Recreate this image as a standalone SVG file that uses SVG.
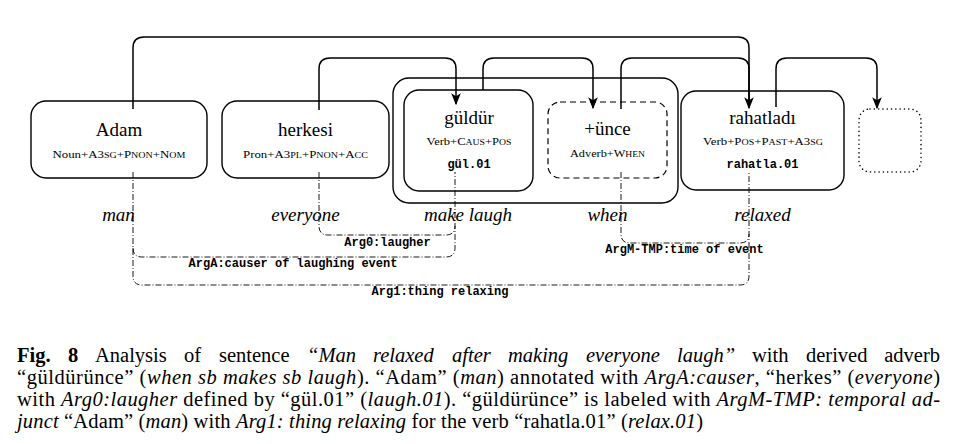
<svg xmlns="http://www.w3.org/2000/svg" width="967" height="444" viewBox="0 0 967 444">
<defs>
<marker id="ah" markerUnits="userSpaceOnUse" markerWidth="12" markerHeight="10" viewBox="0 0 10 8" refX="9" refY="4" orient="auto">
<path d="M0,0 L10,4 L0,8 L2.5,4 z" fill="#000"/>
</marker>
<style>
.box{fill:none;stroke:#000;stroke-width:1.4}
.dash{fill:none;stroke:#000;stroke-width:1.2;stroke-dasharray:6 4}
.dot{fill:none;stroke:#000;stroke-width:1.5;stroke-dasharray:0.1 4.2;stroke-linecap:round}
.arc{fill:none;stroke:#000;stroke-width:1.5}
.dd{fill:none;stroke:#000;stroke-width:0.9;stroke-dasharray:6 2 1 2}
.t{font-family:"Liberation Serif","Times New Roman",serif;font-size:19px;text-anchor:middle;fill:#000}
.s{font-family:"Liberation Serif","Times New Roman",serif;font-size:10.5px;text-anchor:middle;fill:#000}
.sc{font-size:8.2px}
.m{font-family:"Liberation Mono","Courier New",monospace;font-size:12px;font-weight:bold;text-anchor:middle;fill:#000}
.it{font-family:"Liberation Serif","Times New Roman",serif;font-size:19px;font-style:italic;text-anchor:middle;fill:#000}
.c{font-family:"Liberation Serif","Times New Roman",serif;font-size:20.5px;fill:#000}
.i{font-style:italic}
.b{font-weight:bold}
</style>
</defs>

<g id="container">
<rect class="box" x="393" y="78" width="285" height="125" rx="16"/>
</g>

<g id="node-adam">
<rect class="box" x="31" y="101" width="176" height="77" rx="15"/>
<text class="t" x="119" y="136">Adam</text>
<text class="s" x="119" y="158" textLength="133" lengthAdjust="spacingAndGlyphs">Noun+A3<tspan class="sc">SG</tspan>+P<tspan class="sc">NON</tspan>+N<tspan class="sc">OM</tspan></text>
</g>

<g id="node-herkesi">
<rect class="box" x="222" y="101" width="167" height="77" rx="15"/>
<text class="t" x="305.5" y="136">herkesi</text>
<text class="s" x="305.5" y="158" textLength="125" lengthAdjust="spacingAndGlyphs">Pron+A3<tspan class="sc">PL</tspan>+P<tspan class="sc">NON</tspan>+A<tspan class="sc">CC</tspan></text>
</g>

<g id="node-guldur">
<rect class="box" x="404" y="90" width="129" height="101" rx="15"/>
<text class="t" x="469" y="124">güldür</text>
<text class="s" x="469" y="145" textLength="85" lengthAdjust="spacingAndGlyphs">Verb+C<tspan class="sc">AUS</tspan>+P<tspan class="sc">OS</tspan></text>
<text class="m" x="469" y="168">gül.01</text>
</g>

<g id="node-unce">
<rect class="dash" x="548" y="102" width="119" height="76" rx="12"/>
<text class="t" x="607.5" y="135">+ünce</text>
<text class="s" x="607.5" y="157" textLength="75" lengthAdjust="spacingAndGlyphs">Adverb+W<tspan class="sc">HEN</tspan></text>
</g>

<g id="node-rahatladi">
<rect class="box" x="681" y="91" width="163" height="99" rx="15"/>
<text class="t" x="762.5" y="124">rahatladı</text>
<text class="s" x="763" y="145" textLength="120" lengthAdjust="spacingAndGlyphs">Verb+P<tspan class="sc">OS</tspan>+P<tspan class="sc">AST</tspan>+A3<tspan class="sc">SG</tspan></text>
<text class="m" x="762.5" y="168">rahatla.01</text>
</g>

<g id="node-empty">
<rect class="dot" x="859" y="109" width="62" height="63" rx="11"/>
</g>

<g id="connectors">
<path class="arc" d="M133,109 V48 Q133,37 144,37 H738 Q749,37 749,48 V108" marker-end="url(#ah)"/>
<path class="arc" d="M319,110 V69 Q319,58 330,58 H445 Q456,58 456,69 V104" marker-end="url(#ah)"/>
<path class="arc" d="M483,90 V69 Q483,58 494,58 H582 Q593,58 593,69 V108" marker-end="url(#ah)"/>
<path class="arc" d="M621,109 V69 Q621,58 632,58 H738 Q749,58 749,69 V100"/>
<path class="arc" d="M776,107 V69 Q776,58 787,58 H866 Q877,58 877,69 V108" marker-end="url(#ah)"/>

<path class="dd" d="M133,172 V276 Q133,285 142,285 H740 Q749,285 749,276 V172"/>
<path class="dd" d="M133,248 Q133,257 142,257 H446 Q455,257 455,248 V172"/>
<path class="dd" d="M319,172 V226 Q319,235 328,235 H446 Q455,235 455,226"/>
<path class="dd" d="M621,172 V234 Q621,243 630,243 H740 Q749,243 749,234"/>
</g>

<g id="gloss">
<text class="it" x="118.5" y="221">man</text>
<text class="it" x="305.5" y="221">everyone</text>
<text class="it" x="468" y="221">make laugh</text>
<text class="it" x="607.5" y="221">when</text>
<text class="it" x="762.5" y="221">relaxed</text>
</g>

<g id="roles">
<text class="m" x="387.5" y="246">Arg0:laugher</text>
<text class="m" x="293" y="267">ArgA:causer of laughing event</text>
<text class="m" x="684.5" y="253">ArgM-TMP:time of event</text>
<text class="m" x="440" y="295">Arg1:thing relaxing</text>
</g>

<g id="caption">
<text class="c" y="362"><tspan x="17" class="b">Fig.</tspan><tspan x="68" class="b">8</tspan><tspan x="95">Analysis</tspan><tspan x="184">of</tspan><tspan x="219">sentence</tspan><tspan x="307" class="i">“Man</tspan><tspan x="373" class="i">relaxed</tspan><tspan x="452" class="i">after</tspan><tspan x="508" class="i">making</tspan><tspan x="586" class="i">everyone</tspan><tspan x="677" class="i">laugh”</tspan><tspan x="752">with</tspan><tspan x="806">derived</tspan><tspan x="940" text-anchor="end">adverb</tspan></text>
<text class="c" x="17" y="384" textLength="923" lengthAdjust="spacing">“güldürünce” (<tspan class="i">when sb makes sb laugh</tspan>). “Adam” (<tspan class="i">man</tspan>) annotated with <tspan class="i">ArgA:causer</tspan>, “herkes” (<tspan class="i">everyone</tspan>)</text>
<text class="c" x="17" y="406" textLength="923" lengthAdjust="spacing">with <tspan class="i">Arg0:laugher</tspan> defined by “gül.01” (<tspan class="i">laugh.01</tspan>). “güldürünce” is labeled with <tspan class="i">ArgM-TMP: temporal ad-</tspan></text>
<text class="c" x="17" y="428" textLength="686" lengthAdjust="spacing"><tspan class="i">junct</tspan> “Adam” (<tspan class="i">man</tspan>) with <tspan class="i">Arg1: thing relaxing</tspan> for the verb “rahatla.01” (<tspan class="i">relax.01</tspan>)</text>
</g>
</svg>
